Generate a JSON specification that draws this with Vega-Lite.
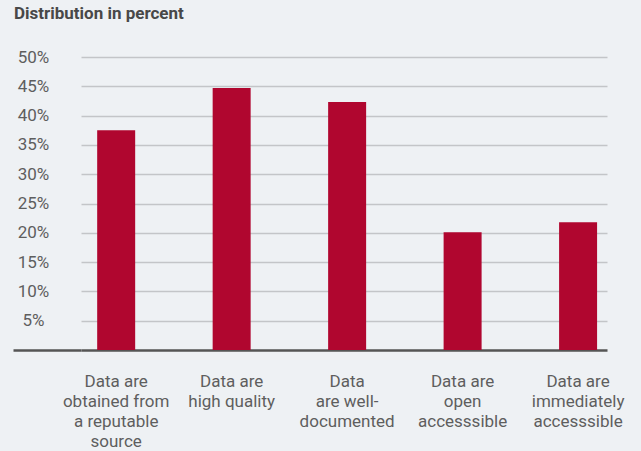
{
  "$schema": "https://vega.github.io/schema/vega-lite/v6.json",
  "width": 526,
  "height": 293,
  "autosize": {"type": "none"},
  "padding": {"left": 81, "top": 57, "right": 34, "bottom": 101},
  "background": "#eef1f4",
  "title": {
    "text": "Distribution in percent",
    "anchor": "start",
    "frame": "group",
    "dx": -67,
    "offset": 12,
    "baseline": "alphabetic",
    "font": "Roboto",
    "fontSize": 17,
    "fontWeight": "bold",
    "letterSpacing": 1,
    "color": "#484848"
  },
  "config": {"view": {"stroke": null}, "font": "Roboto"},
  "data": {
    "values": [
      {"criterion": "Data are|obtained from|a reputable|source", "share": 37.5},
      {"criterion": "Data are|high quality", "share": 44.7},
      {"criterion": "Data|are well-|documented", "share": 42.3},
      {"criterion": "Data are|open|accesssible", "share": 20.1},
      {"criterion": "Data are|immediately|accesssible", "share": 21.8}
    ]
  },
  "mark": {"type": "bar", "color": "#b0062f"},
  "encoding": {
    "x": {
      "field": "criterion",
      "type": "nominal",
      "sort": null,
      "scale": {"paddingInner": 0.671, "paddingOuter": 0.113, "align": 0.62},
      "axis": {
        "title": null,
        "labelExpr": "split(datum.label, '|')",
        "labelAngle": 0,
        "labelFont": "Roboto",
        "labelFontSize": 17,
        "labelLineHeight": 20,
        "labelColor": "#5e5e5e",
        "labelPadding": 23,
        "ticks": false,
        "domain": true,
        "domainColor": "#555555",
        "domainWidth": 2.5
      }
    },
    "y": {
      "field": "share",
      "type": "quantitative",
      "scale": {"domain": [0, 50]},
      "axis": {
        "title": null,
        "values": [0, 5, 10, 15, 20, 25, 30, 35, 40, 45, 50],
        "labelExpr": "datum.value === 0 ? '' : datum.value + '%'",
        "labelAlign": "center",
        "labelPadding": -20,
        "labelFont": "Roboto",
        "labelFontSize": 17,
        "labelColor": "#5e5e5e",
        "domain": false,
        "tickSize": 68,
        "tickWidth": 2.5,
        "tickColor": {"condition": {"test": "datum.value === 0", "value": "#555555"}, "value": "transparent"},
        "grid": true,
        "gridColor": {"condition": {"test": "datum.value === 0", "value": "transparent"}, "value": "#c3c5c8"},
        "gridWidth": 1.5
      }
    }
  }
}
